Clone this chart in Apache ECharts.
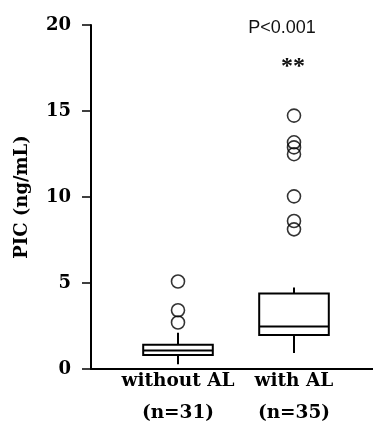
<!DOCTYPE html>
<html>
<head>
<meta charset="utf-8">
<script src="https://cdn.jsdelivr.net/npm/echarts@6/dist/echarts.min.js"></script>
<style>html,body{margin:0;padding:0;background:#fff}#c{width:373px;height:429px}</style>
</head>
<body>
<div id="c"></div>
<script>
// ---- data ----
var groupNames = ['without AL', 'with AL'];
var groupN = ['(n=31)', '(n=35)'];
var lowerWhisker = [0.05, 0.71];
var q1 = [0.59, 1.77];
var median = [0.85, 2.26];
var q3 = [1.19, 4.2];
var upperWhisker = [1.9, 4.56];
var outliersWithout = [2.5, 3.22, 4.91];
var outliersWith = [7.98, 8.47, 9.92, 12.4, 12.8, 13.1, 14.67];
var yTicks = [0, 5, 10, 15, 20];
var pText = 'P<0.001';
var sigText = '**';
var yName = 'PIC (ng/mL)';

var categories = groupNames.map(function (g, i) { return g + '\n' + groupN[i]; });
var boxData = groupNames.map(function (g, i) {
  return [i, lowerWhisker[i], q1[i], median[i], q3[i], upperWhisker[i]];
});
var outlierData = outliersWithout.map(function (v) { return [0, v]; })
  .concat(outliersWith.map(function (v) { return [1, v]; }));

var serif = 'DejaVu Serif';
var chart = echarts.init(document.getElementById('c'));
chart.setOption({
  animation: false,
  backgroundColor: '#fff',
  grid: [
    { left: 91, right: 0, top: 25, bottom: 60 },
    { left: 120, right: 21, top: 25, bottom: 60 }
  ],
  xAxis: [
    { gridIndex: 0, type: 'value', min: 0, max: 1, axisLine: { show: true, lineStyle: { color: '#000', width: 2 } },
      axisTick: { show: false }, axisLabel: { show: false }, splitLine: { show: false } },
    { gridIndex: 1, type: 'category', data: categories, axisLine: { show: false }, axisTick: { show: false },
      axisLabel: { interval: 0, hideOverlap: false, margin: 0, color: '#000', fontFamily: serif, fontWeight: 'bold', fontSize: 18.5, lineHeight: 32 } }
  ],
  yAxis: [
    { gridIndex: 0, type: 'value', min: yTicks[0], max: yTicks[yTicks.length - 1], interval: 5,
      axisLine: { show: true, lineStyle: { color: '#000', width: 2 } },
      axisTick: { show: true, inside: false, length: 9, lineStyle: { color: '#000', width: 1.5 } },
      axisLabel: { margin: 20, color: '#000', fontFamily: serif, fontWeight: 'bold', fontSize: 18 },
      splitLine: { show: false },
      name: yName, nameLocation: 'middle', nameGap: 60, nameRotate: 90,
      nameTextStyle: { color: '#000', fontFamily: serif, fontWeight: 'bold', fontSize: 18 } },
    { gridIndex: 1, type: 'value', min: yTicks[0], max: yTicks[yTicks.length - 1], show: false }
  ],
  series: [
    {
      type: 'custom', xAxisIndex: 1, yAxisIndex: 1,
      data: boxData,
      encode: { x: 0, y: [1, 2, 3, 4, 5] },
      renderItem: function (params, api) {
        var x = api.value(0);
        var cx = api.coord([x, 0])[0];
        var yLW = api.coord([x, api.value(1)])[1];
        var yQ1 = api.coord([x, api.value(2)])[1];
        var yMed = api.coord([x, api.value(3)])[1];
        var yQ3 = api.coord([x, api.value(4)])[1];
        var yUW = api.coord([x, api.value(5)])[1];
        var w = api.size([1, 0])[0] * 0.6;
        var st = { stroke: '#000', lineWidth: 2, fill: null };
        return { type: 'group', children: [
          { type: 'line', shape: { x1: cx, y1: yUW, x2: cx, y2: yQ3 }, style: st },
          { type: 'line', shape: { x1: cx, y1: yQ1, x2: cx, y2: yLW }, style: st },
          { type: 'rect', shape: { x: cx - w / 2, y: yQ3, width: w, height: yQ1 - yQ3 }, style: { fill: '#fff', stroke: '#000', lineWidth: 2 } },
          { type: 'line', shape: { x1: cx - w / 2, y1: yMed, x2: cx + w / 2, y2: yMed }, style: st }
        ] };
      }
    },
    {
      type: 'scatter', xAxisIndex: 1, yAxisIndex: 1,
      data: outlierData,
      symbol: 'circle', symbolSize: 13,
      itemStyle: { color: 'rgba(255,255,255,0)', borderColor: '#000', borderWidth: 1.6 }
    }
  ],
  graphic: [
    { type: 'text', x: 282, y: 28, style: { text: pText, align: 'center', verticalAlign: 'middle', font: '18px "Liberation Sans"', fill: '#111' } },
    { type: 'text', x: 293, y: 67, style: { text: sigText, align: 'center', verticalAlign: 'middle', font: 'bold 24px "Liberation Serif"', fill: '#111' } }
  ]
});
</script>
</body>
</html>
